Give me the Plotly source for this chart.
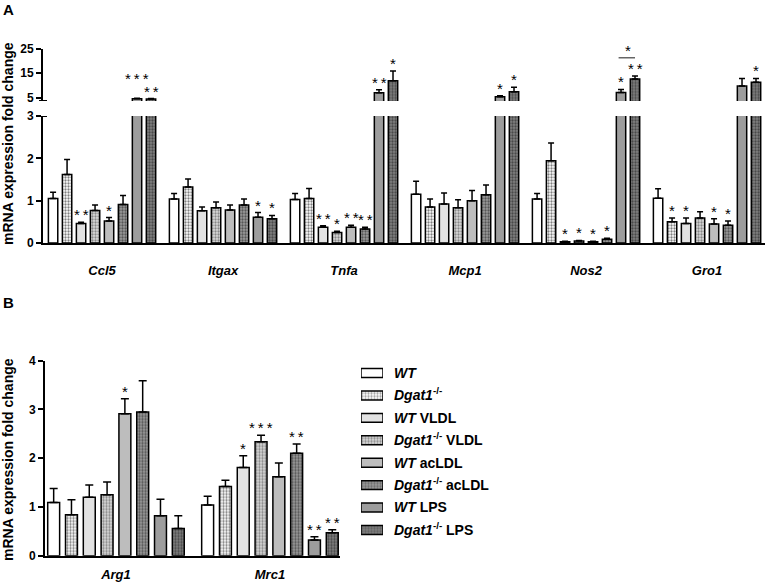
import plotly.graph_objects as go

# ---------------- data ----------------
series = ["WT", "Dgat1-/-", "WT VLDL", "Dgat1-/- VLDL", "WT acLDL",
          "Dgat1-/- acLDL", "WT LPS", "Dgat1-/- LPS"]
legend_labels = ["<i>WT</i>", "<i>Dgat1</i><sup>-/-</sup>", "<i>WT</i> VLDL",
                 "<i>Dgat1</i><sup>-/-</sup> VLDL", "<i>WT</i> acLDL",
                 "<i>Dgat1</i><sup>-/-</sup> acLDL", "<i>WT</i> LPS",
                 "<i>Dgat1</i><sup>-/-</sup> LPS"]

genes_a = ["Ccl5", "Itgax", "Tnfa", "Mcp1", "Nos2", "Gro1"]
vals_wt = [1.05, 1.04, 1.03, 1.15, 1.04, 1.06]
vals_dg = [1.62, 1.32, 1.05, 0.85, 1.94, 0.50]
vals_wt_vldl = [0.46, 0.76, 0.37, 0.92, 0.03, 0.46]
vals_dg_vldl = [0.77, 0.83, 0.25, 0.83, 0.05, 0.59]
vals_wt_acldl = [0.52, 0.78, 0.37, 1.00, 0.03, 0.45]
vals_dg_acldl = [0.91, 0.90, 0.33, 1.14, 0.09, 0.42]
vals_wt_lps = [4.5, 0.61, 7.0, 5.3, 7.1, 9.7]
vals_dg_lps = [4.4, 0.57, 11.9, 7.4, 12.6, 11.2]

err_wt = [0.15, 0.13, 0.14, 0.31, 0.13, 0.22]
err_dg = [0.35, 0.19, 0.24, 0.19, 0.42, 0.09]
err_wt_vldl = [0.03, 0.09, 0.04, 0.26, 0.01, 0.13]
err_dg_vldl = [0.13, 0.14, 0.03, 0.19, 0.01, 0.15]
err_wt_acldl = [0.08, 0.12, 0.05, 0.24, 0.01, 0.12]
err_dg_acldl = [0.21, 0.14, 0.04, 0.23, 0.02, 0.10]
err_wt_lps = [0.2, 0.11, 1.2, 0.4, 1.2, 3.1]
err_dg_lps = [0.2, 0.08, 3.9, 1.8, 1.2, 1.6]

sig_wt = ["", "", "", "", "", ""]
sig_dg = ["", "", "", "", "", "*"]
sig_wt_vldl = ["**", "", "**", "", "*", "*"]
sig_dg_vldl = ["", "", "*", "", "*", ""]
sig_wt_acldl = ["*", "", "**", "", "*", "*"]
sig_dg_acldl = ["", "", "**", "", "*", "*"]
sig_wt_lps = ["***", "*", "**", "*", "*", ""]
sig_dg_lps = ["**", "*", "*", "*", "**", "*"]

# comparison bracket in panel A: (gene, series i, series j, level, label)
bracket_a = ("Nos2", 6, 7, 21.2, "*")

genes_b = ["Arg1", "Mrc1"]
valsb_wt = [1.09, 1.04]
valsb_dg = [0.84, 1.42]
valsb_wt_vldl = [1.20, 1.81]
valsb_dg_vldl = [1.25, 2.34]
valsb_wt_acldl = [2.91, 1.62]
valsb_dg_acldl = [2.95, 2.10]
valsb_wt_lps = [0.82, 0.32]
valsb_dg_lps = [0.56, 0.47]

errb_wt = [0.29, 0.18]
errb_dg = [0.31, 0.13]
errb_wt_vldl = [0.25, 0.24]
errb_dg_vldl = [0.26, 0.13]
errb_wt_acldl = [0.31, 0.28]
errb_dg_acldl = [0.64, 0.19]
errb_wt_lps = [0.34, 0.07]
errb_dg_lps = [0.26, 0.06]

sigb_wt = ["", ""]
sigb_dg = ["", ""]
sigb_wt_vldl = ["", "*"]
sigb_dg_vldl = ["", "***"]
sigb_wt_acldl = ["*", ""]
sigb_dg_acldl = ["", "**"]
sigb_wt_lps = ["", "**"]
sigb_dg_lps = ["", "**"]

ticks_a_low = [0, 1, 2, 3]
ticks_a_high = [5, 15, 25]
ticks_b = [0, 1, 2, 3, 4]

vals_a = [vals_wt, vals_dg, vals_wt_vldl, vals_dg_vldl, vals_wt_acldl, vals_dg_acldl, vals_wt_lps, vals_dg_lps]
errs_a = [err_wt, err_dg, err_wt_vldl, err_dg_vldl, err_wt_acldl, err_dg_acldl, err_wt_lps, err_dg_lps]
sigs_a = [sig_wt, sig_dg, sig_wt_vldl, sig_dg_vldl, sig_wt_acldl, sig_dg_acldl, sig_wt_lps, sig_dg_lps]
vals_b = [valsb_wt, valsb_dg, valsb_wt_vldl, valsb_dg_vldl, valsb_wt_acldl, valsb_dg_acldl, valsb_wt_lps, valsb_dg_lps]
errs_b = [errb_wt, errb_dg, errb_wt_vldl, errb_dg_vldl, errb_wt_acldl, errb_dg_acldl, errb_wt_lps, errb_dg_lps]
sigs_b = [sigb_wt, sigb_dg, sigb_wt_vldl, sigb_dg_vldl, sigb_wt_acldl, sigb_dg_acldl, sigb_wt_lps, sigb_dg_lps]

# ---------------- style ----------------
W, H = 767, 584
FONT = "Arial, Liberation Sans, sans-serif"
fills = ["#ffffff", "#ffffff", "#e2e2e2", "#dadada", "#bdbdbd", "#9a9a9a", "#9d9d9d", "#808080"]
pshape = ["", ".", "", ".", "", ".", "", "."]
pfg = ["#000000", "#000000", "#000000", "#333333", "#000000", "#111111", "#000000", "#111111"]
BARGAP = 0.075
BARGROUPGAP = 0.33
A_HIGH_BREAK = 3.6
STAR_RAISE = {(6, 0): 12}   # extra pixel lift for crowded star labels (series, gene)


def px(x):
    return x / W


def py(y):
    return 1 - y / H


def offset(k):
    wgrp = 1 - BARGAP
    return -wgrp / 2 + (k + 0.5) * wgrp / 8


def marker(k):
    return dict(color=fills[k], line=dict(color="black", width=1.5),
                pattern=dict(shape=pshape[k], fgcolor=pfg[k], bgcolor=fills[k],
                             size=3, solidity=0.45, fillmode="overlay"))


def errbar(e, cap):
    return dict(type="data", array=e, arrayminus=[0] * len(e), symmetric=False,
                color="black", thickness=1.5, width=cap)


fig = go.Figure()
for k, name in enumerate(series):
    for yax in ["y", "y2"]:
        fig.add_trace(go.Bar(x=genes_a, y=vals_a[k], name=name, marker=marker(k),
                             error_y=errbar(errs_a[k], 3), xaxis="x", yaxis=yax,
                             showlegend=False, cliponaxis=True))
    fig.add_trace(go.Bar(x=genes_b, y=vals_b[k], name=name, marker=marker(k),
                         error_y=errbar(errs_b[k], 4), xaxis="x2", yaxis="y3",
                         showlegend=False, cliponaxis=True))

# legend swatches
fig.add_trace(go.Bar(
    x=[1] * len(series), y=legend_labels, orientation="h", width=0.4,
    xaxis="x3", yaxis="y4", showlegend=False,
    marker=dict(color=fills, line=dict(color="black", width=1.5),
                pattern=dict(shape=pshape, fgcolor=pfg, bgcolor=fills,
                             size=3, solidity=0.45, fillmode="overlay"))))

axis_common = dict(showline=True, linecolor="black", linewidth=2, showgrid=False,
                   zeroline=False, ticks="outside", ticklen=5, tickwidth=2,
                   tickcolor="black", automargin=False,
                   tickfont=dict(family=FONT, size=12, color="black", weight="bold"))

fig.update_layout(
    template="none",
    width=W, height=H, margin=dict(l=0, r=0, t=0, b=0, pad=0, autoexpand=False),
    paper_bgcolor="white", plot_bgcolor="rgba(0,0,0,0)",
    barmode="group", bargap=BARGAP, bargroupgap=BARGROUPGAP,
    font=dict(family=FONT, color="black"),
    xaxis=dict(domain=[px(43), px(765)], range=[-0.488, 5.479], type="category",
               anchor="y", showline=True, linecolor="black", linewidth=2,
               ticks="", showgrid=False, zeroline=False, ticklabelstandoff=14,
               automargin=False,
               tickfont=dict(family=FONT, size=13, color="black", weight="bold",
                             style="italic")),
    yaxis=dict(domain=[py(243), py(116)], range=[0, 3], tickvals=ticks_a_low,
               anchor="x", **axis_common),
    yaxis2=dict(domain=[py(101), py(48.5)], range=[A_HIGH_BREAK, 25],
                tickvals=ticks_a_high, anchor="x", **axis_common),
    xaxis2=dict(domain=[px(45), px(340)], range=[-0.461, 1.455], type="category",
                anchor="y3", showline=True, linecolor="black", linewidth=2,
                ticks="", showgrid=False, zeroline=False, ticklabelstandoff=6,
                automargin=False,
                tickfont=dict(family=FONT, size=13, color="black", weight="bold",
                              style="italic")),
    yaxis3=dict(domain=[py(555.7), py(360.7)], range=[0, 4], tickvals=ticks_b,
                anchor="x2", **axis_common),
    xaxis3=dict(domain=[px(361), px(383)], range=[0, 1], visible=False, anchor="y4",
                automargin=False),
    yaxis4=dict(domain=[py(541.2), py(361.8)], type="category", autorange="reversed",
                side="right", anchor="x3", showline=False, ticks="", showgrid=False,
                zeroline=False, ticklabelstandoff=10, automargin=False,
                tickfont=dict(family=FONT, size=14, color="black", weight="bold")),
)

ann = []
star_font = dict(family=FONT, size=15, color="black")


def stars(s):
    return "\u2009".join(list(s))


for k in range(len(series)):
    for i, g in enumerate(genes_a):
        s = sigs_a[k][i]
        if not s:
            continue
        top = vals_a[k][i] + errs_a[k][i]
        yref = "y2" if vals_a[k][i] > 3 else "y"
        ann.append(dict(x=i + offset(k), y=top, xref="x", yref=yref, text=stars(s),
                        showarrow=False, xanchor="center", yanchor="bottom",
                        yshift=-3 + STAR_RAISE.get((k, i), 0), font=star_font))
    for i, g in enumerate(genes_b):
        s = sigs_b[k][i]
        if not s:
            continue
        top = vals_b[k][i] + errs_b[k][i]
        ann.append(dict(x=i + offset(k), y=top, xref="x2", yref="y3", text=stars(s),
                        showarrow=False, xanchor="center", yanchor="bottom", yshift=-3,
                        font=star_font))

# bracket
bg, bi, bj, blev, btxt = bracket_a
gi = genes_a.index(bg)
fig.add_shape(type="line", xref="x", yref="y2", x0=gi + offset(bi) - 0.02,
              x1=gi + offset(bj), y0=blev, y1=blev, line=dict(color="#666666", width=1.5))
ann.append(dict(x=gi + (offset(bi) + offset(bj)) / 2, y=blev, xref="x", yref="y2",
                text=stars(btxt), showarrow=False, xanchor="center", yanchor="bottom",
                yshift=-3, font=star_font))

# axis-break feet
fig.add_shape(type="line", xref="paper", yref="y", x0=px(39), x1=px(47), y0=3, y1=3,
              line=dict(color="black", width=2))
fig.add_shape(type="line", xref="paper", yref="y2", x0=px(39), x1=px(47),
              y0=A_HIGH_BREAK, y1=A_HIGH_BREAK, line=dict(color="black", width=2))

title_font = dict(family=FONT, size=14, color="black", weight="bold")
for yc in (144, 460):
    ann.append(dict(x=px(8), y=py(yc), xref="paper", yref="paper",
                    xanchor="center", yanchor="middle",
                    text="mRNA expression fold change", textangle=-90, showarrow=False,
                    font=title_font))
for lab, yc in (("A", 9), ("B", 302)):
    ann.append(dict(x=px(8), y=py(yc), xref="paper", yref="paper", text=lab,
                    xanchor="center", yanchor="middle", showarrow=False,
                    font=dict(family=FONT, size=15, color="black", weight="bold")))

fig.update_layout(annotations=ann)
fig.write_html("out.html", config={"displayModeBar": False},
               post_script="document.body.style.margin='0px';document.body.style.overflow='hidden';")
